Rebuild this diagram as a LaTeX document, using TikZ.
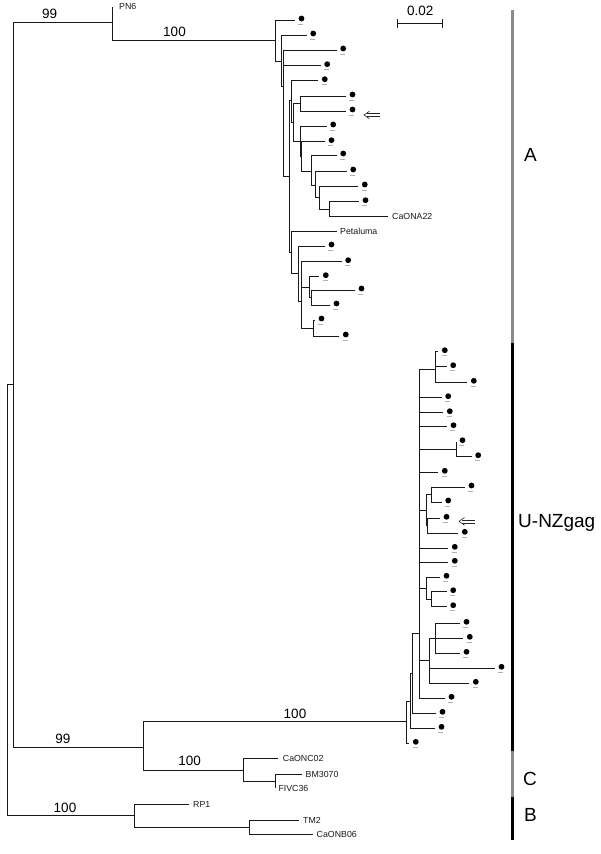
\documentclass[tikz,border=0pt]{standalone}
\usepackage{fontspec}
\setmainfont{Liberation Sans}
\newcommand{\inode}[4]{\coordinate (#1) at (#3,#4); \draw[br] (#2) |- (#1);}
\newcommand{\dleaf}[4]{\inode{#1}{#2}{#3}{#4}
  \fill[black] (#1) ++(6.5,-1.5) circle (2.9pt);
  \draw[tickmark] ([shift={(3.2,3.8)}]#1) -- ([shift={(8.2,3.8)}]#1);}
\newcommand{\hollowarrow}[1]{%
  \draw[arrowline] ([shift={(3.2,-1.5)}]#1) -- ++(12.3,0);
  \draw[arrowline] ([shift={(3.2,1.5)}]#1) -- ++(12.3,0);
  \draw[arrowline, line join=miter] ([shift={(5.5,-3.8)}]#1) -- (#1) -- ([shift={(5.5,3.8)}]#1);}
\begin{document}
\begin{tikzpicture}[x=1pt,y=-1pt,
  br/.style={line width=1pt, draw=black!90},
  tickmark/.style={line width=0.6pt, draw=black!30},
  arrowline/.style={line width=0.6pt, draw=black!85},
  tiplab/.style={font=\fontsize{8.8}{10}\selectfont, anchor=west, inner sep=0pt, text=black!90},
  boot/.style={font=\fontsize{13.5}{15}\selectfont, anchor=base, inner sep=0pt},
  clade/.style={font=\fontsize{19}{21}\selectfont, anchor=west, inner sep=0pt},
  cladebar/.style={line width=2.7pt}]
\useasboundingbox (0,0) rectangle (600,854);
% ---------- backbone ----------
\coordinate (R0) at (7.3,600);
\inode{N1}{R0}{13.3}{384.7}
\inode{N2}{N1}{112.7}{22.3}
\inode{PN6}{N2}{112.7}{6.5}
\node[tiplab, anchor=base west] (lPN6) at (119,9.2) {PN6};
\inode{NCU}{N1}{143.3}{747}
\inode{NB}{R0}{134}{815.7}
% ---------- clade A ----------
\inode{RA}{N2}{275}{40}
\dleaf{a1}{RA}{295}{20}
\inode{A2}{RA}{281.7}{61}
\dleaf{a2}{A2}{306.7}{35}
\inode{A3}{A2}{283.3}{86}
\dleaf{a3}{A3}{336.7}{50}
\dleaf{a4}{A3}{320.7}{65.7}
\inode{C1}{A3}{289.3}{176.7}
\inode{C0}{C1}{291.7}{100}
\dleaf{a5}{C0}{318.3}{80.7}
\inode{B1}{C0}{293.3}{122}
\inode{N67}{B1}{300}{103.5}
\dleaf{a6}{N67}{346}{96}
\dleaf{a7}{N67}{346}{111}
\inode{Q1}{B1}{300}{141.7}
\dleaf{a8}{Q1}{326.7}{126}
\inode{Q1b}{Q1}{301.7}{156.4}
\dleaf{a9}{Q1b}{325}{141.7}
\inode{Q2}{Q1b}{311}{171}
\dleaf{a10}{Q2}{336.7}{155}
\inode{Q3}{Q2}{315}{185}
\dleaf{a11}{Q3}{346.7}{171}
\inode{Q4}{Q3}{319.3}{197.5}
\dleaf{a12}{Q4}{358.3}{186}
\inode{Q5}{Q4}{329.3}{209}
\dleaf{a13}{Q5}{359}{201.7}
\inode{CaONA22}{Q5}{388.3}{216}
\node[tiplab] (lCaONA22) at (392,216) {CaONA22};
\inode{P1}{C1}{291}{252}
\inode{Petaluma}{P1}{336.7}{231.7}
\node[tiplab] (lPetaluma) at (340,231.7) {Petaluma};
\inode{P2}{P1}{298.3}{273.5}
\dleaf{p1}{P2}{325}{246}
\inode{P2b}{P2}{301.7}{301}
\dleaf{p2}{P2b}{341.7}{261.7}
\inode{P4}{P2b}{309.3}{287.5}
\dleaf{p3}{P4}{319.3}{276.7}
\inode{P5}{P4}{311}{297.5}
\dleaf{p4}{P5}{355}{290}
\dleaf{p5}{P5}{330}{305}
\inode{P6}{P2b}{313.3}{328}
\dleaf{p6}{P6}{315}{320}
\dleaf{p7}{P6}{339.3}{336}
% ---------- clade U-NZgag ----------
\inode{U0}{NCU}{406.7}{721.7}
\inode{Z}{U0}{410}{701.7}
\dleaf{u27}{U0}{409.3}{743.3}
\inode{W}{Z}{412.3}{673.3}
\dleaf{u26}{Z}{435}{728.3}
\inode{X}{W}{419.3}{633.3}
\dleaf{u25}{W}{436}{713.3}
\inode{Ua}{X}{435}{369}
\dleaf{u1}{Ua}{438.3}{351.7}
\dleaf{u2}{Ua}{446.7}{366.7}
\dleaf{u3}{Ua}{467.3}{382.3}
\dleaf{u4}{X}{441.7}{397.7}
\dleaf{u5}{X}{443.3}{412.7}
\dleaf{u6}{X}{447}{426.7}
\inode{Ub}{X}{456}{449}
\dleaf{u7}{Ub}{456}{441.7}
\dleaf{u8}{Ub}{471.7}{456.7}
\dleaf{u9}{X}{438.3}{472.3}
\inode{Ud}{X}{426}{510}
\inode{Uc}{Ud}{431.7}{494.5}
\dleaf{u10}{Uc}{465}{487}
\dleaf{u11}{Uc}{441.7}{502}
\inode{Ue}{Ud}{427.5}{525.8}
\dleaf{u12}{Ue}{440}{518.3}
\dleaf{u13}{Ue}{458.3}{533.3}
\dleaf{u14}{X}{448.3}{548.3}
\dleaf{u15}{X}{448.3}{562.3}
\inode{Uf}{X}{426}{588}
\dleaf{u16}{Uf}{440}{577.3}
\inode{Ug}{Uf}{431.7}{599.2}
\dleaf{u17}{Ug}{446.7}{591.7}
\dleaf{u18}{Ug}{446.7}{606.7}
\inode{Uh}{X}{429.3}{660.8}
\inode{Ui}{Uh}{435}{638.3}
\dleaf{u19}{Ui}{460}{623.3}
\dleaf{u20}{Ui}{463.3}{638.3}
\dleaf{u21}{Ui}{460}{653.3}
\dleaf{u22}{Uh}{495}{668.3}
\dleaf{u23}{Uh}{469.3}{683.3}
\dleaf{u24}{X}{445}{698.3}
% ---------- clade C ----------
\inode{NC}{NCU}{243.3}{770}
\inode{CaONC02}{NC}{278.3}{758.3}
\node[tiplab] (lCaONC02) at (282.7,758.3) {CaONC02};
\inode{NC2}{NC}{275.7}{781.7}
\inode{BM3070}{NC2}{301.7}{774}
\node[tiplab] (lBM3070) at (305.5,774) {BM3070};
\inode{FIVC36}{NC2}{275.7}{788.3}
\node[tiplab] (lFIVC36) at (278.3,788.3) {FIVC36};
% ---------- clade B ----------
\inode{RP1}{NB}{189.3}{804}
\node[tiplab] (lRP1) at (193,804) {RP1};
\inode{NB2}{NB}{249.3}{827.3}
\inode{TM2}{NB2}{299.3}{820}
\node[tiplab] (lTM2) at (303,820) {TM2};
\inode{CaONB06}{NB2}{313.3}{834.3}
\node[tiplab] (lCaONB06) at (316.5,834.3) {CaONB06};
% ---------- bootstrap values ----------
\node[boot] (b1) at (49.7,18.3) {99};
\node[boot] (b2) at (174.5,36.7) {100};
\node[boot] (b3) at (295,718.3) {100};
\node[boot] (b4) at (62.8,743.3) {99};
\node[boot] (b5) at (189.7,765.7) {100};
\node[boot] (b6) at (65,812.7) {100};
% ---------- scale bar ----------
\coordinate (sL) at (397.7,23.3);
\coordinate (sR) at (442.7,23.3);
\draw[br] (sL) -- (sR);
\draw[br] ([yshift=-4.5]sL) -- ([yshift=4.8]sL);
\draw[br] ([yshift=-4.5]sR) -- ([yshift=4.8]sR);
\node[boot] (scalelab) at (420.2,15.2) {0.02};
% ---------- arrows ----------
\coordinate (ar1) at (364,115);
\hollowarrow{ar1}
\coordinate (ar2) at (459,521.3);
\hollowarrow{ar2}
% ---------- clade bars ----------
\coordinate (k0) at (512.7,10);
\coordinate (k1) at (512.7,343);
\coordinate (k2) at (512.7,751);
\coordinate (k3) at (512.7,797);
\coordinate (k4) at (512.7,840);
\draw[cladebar, black!45] (k0) -- (k1);
\draw[cladebar, black] (k1) -- (k2);
\draw[cladebar, black!45] (k2) -- (k3);
\draw[cladebar, black] (k3) -- (k4);
\node[clade] (cA) at (524,155) {A};
\node[clade] (cU) at (518,522.5) {U-NZgag};
\node[clade] (cC) at (523,779) {C};
\node[clade] (cB) at (524,815) {B};
\end{tikzpicture}
\end{document}
